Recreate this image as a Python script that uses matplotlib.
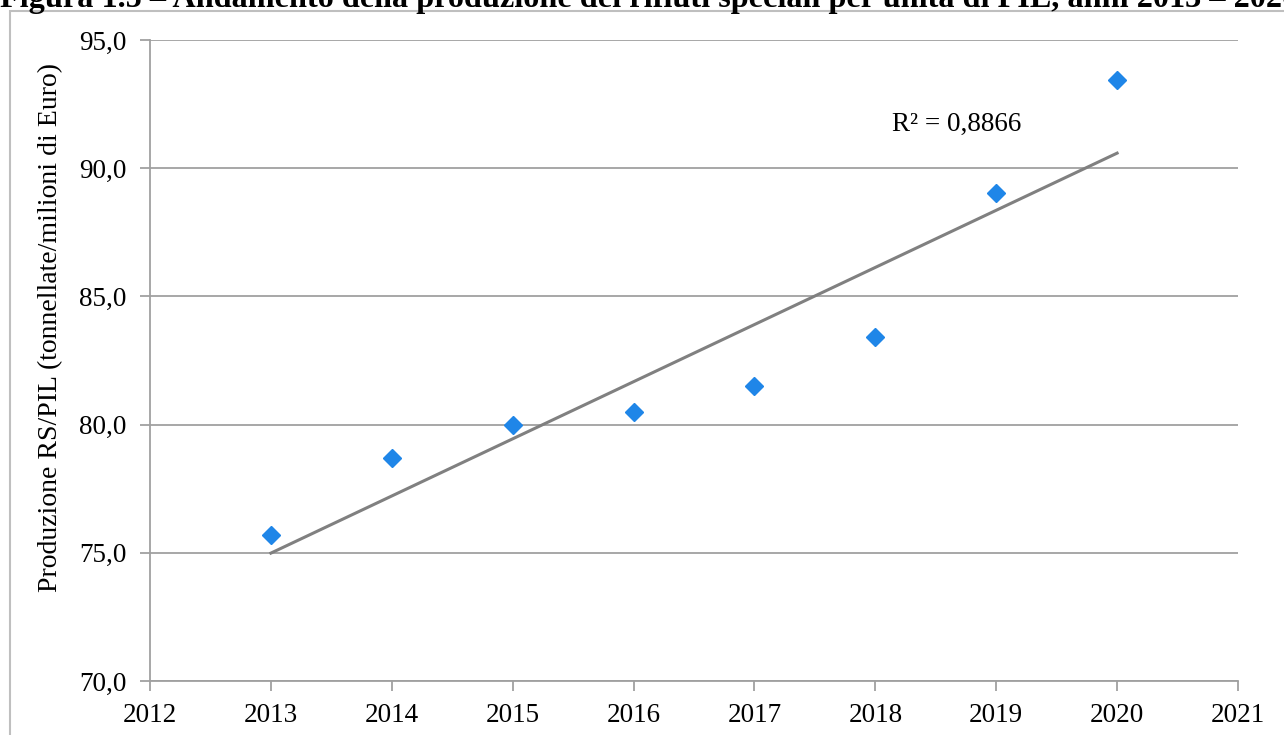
import numpy as np
import matplotlib.pyplot as plt
from matplotlib.ticker import FuncFormatter
from matplotlib.patches import Rectangle

# data
anni = [2013, 2014, 2015, 2016, 2017, 2018, 2019, 2020]
rs_pil = [75.7, 78.7, 80.0, 80.5, 81.5, 83.4, 89.05, 93.45]
r2_label = 'R² = 0,8866'
titolo = 'Figura 1.5 – Andamento della produzione dei rifiuti speciali per unità di PIL, anni 2013 – 2020'
y_label = 'Produzione RS/PIL (tonnellate/milioni di Euro)'

plt.rcParams['font.family'] = ['Liberation Serif', 'DejaVu Serif']

fig = plt.figure(figsize=(12.84, 7.35), dpi=100)
ax = fig.add_axes([150/1284, 54/735, 1088/1284, 695/735 - 54/735])

# outer chart frame (partly cut off like in the original)
fig.patches.append(Rectangle((10/1284, -0.05), 1.2, (735 - 11)/735 + 0.05,
                             transform=fig.transFigure, fill=False,
                             edgecolor='#BFBFBF', linewidth=1.5))

# title is cut off at the top in the original too
fig.text(0.0, 1 - 7/735, titolo, fontsize=23.2, fontweight='bold', va='baseline', ha='left')

x = np.array(anni, dtype=float)
y = np.array(rs_pil)
coef = np.polyfit(x, y, 1)
ax.plot([x[0], x[-1]], np.polyval(coef, [x[0], x[-1]]), color='#808080', linewidth=2.2, zorder=2)
ax.plot(x, y, linestyle='none', marker='D', markersize=9, color='#1F86E8', zorder=3)

ax.text(2018.14, 91.7, r2_label, fontsize=19.5, ha='left', va='center')

ax.set_xlim(2012, 2021)
ax.set_ylim(70, 95)
ax.set_xticks(range(2012, 2022))
ax.set_yticks([70, 75, 80, 85, 90, 95])
ax.yaxis.set_major_formatter(FuncFormatter(lambda v, p: f'{v:.1f}'.replace('.', ',')))
ax.grid(axis='y', color='#A0A0A0', linewidth=1.3)
ax.set_axisbelow(True)

for s in ['top', 'right']:
    ax.spines[s].set_visible(False)
for s in ['left', 'bottom']:
    ax.spines[s].set_color('#A0A0A0')
    ax.spines[s].set_linewidth(1.3)
ax.tick_params(axis='both', labelsize=19.5, color='#A0A0A0', width=1.3, length=7, direction='out')
ax.tick_params(axis='x', pad=9)
ax.tick_params(axis='y', pad=10)
ax.set_ylabel(y_label, fontsize=20)
ax.yaxis.set_label_coords(-0.08, 0.552)

fig.savefig('out.png', dpi=100)
